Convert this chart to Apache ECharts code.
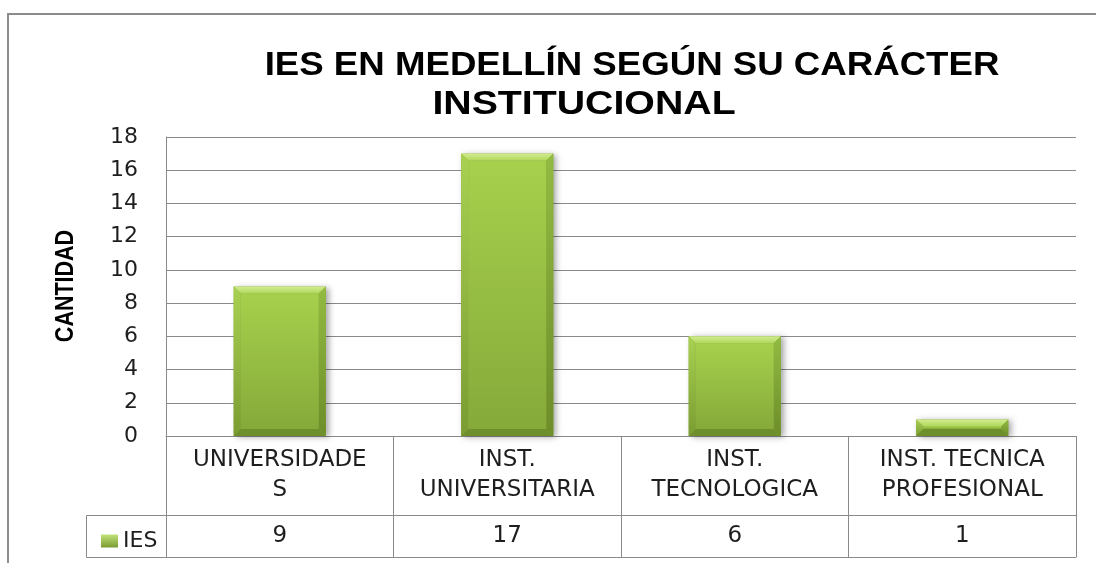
<!DOCTYPE html>
<html>
<head>
<meta charset="utf-8">
<script src="https://cdn.jsdelivr.net/npm/echarts@6/dist/echarts.min.js"></script>
<style>
html,body{margin:0;padding:0;background:#ffffff;}
#chart{width:1096px;height:563px;}
</style>
</head>
<body>
<div id="chart"></div>
<script>
// ---- data ----
const categories = ['UNIVERSIDADE\nS', 'INST.\nUNIVERSITARIA', 'INST.\nTECNOLOGICA', 'INST. TECNICA\nPROFESIONAL'];
const iesValues = [9, 17, 6, 1];
const seriesName = 'IES';
const yMin = 0, yMax = 18, yInterval = 2;
const titleLine1 = 'IES EN MEDELLÍN SEGÚN SU CARÁCTER';
const titleLine2 = 'INSTITUCIONAL';
const yAxisName = 'CANTIDAD';

// ---- styles ----
const LINE = '#8a8a8a';
const TXT = '#1e1e1e';
const TABLE_FONT = '"DejaVu Sans"';

function lg(c0, c1, horizontal) {
  return new echarts.graphic.LinearGradient(0, 0, horizontal ? 1 : 0, horizontal ? 0 : 1,
    [{offset: 0, color: c0}, {offset: 1, color: c1}]);
}

function renderItem(params, api) {
  const idx = api.value(0);
  const val = api.value(1);
  const top = api.coord([idx, val]);
  const base = api.coord([idx, 0]);
  const w = api.size([1, 0])[0] * 0.405;
  const x0 = top[0] - w / 2, x1 = top[0] + w / 2;
  const y0 = top[1], y1 = base[1];
  const h = y1 - y0;
  const b = Math.min(7, h / 2.4, w / 4);
  return {
    type: 'group',
    children: [
      {type: 'rect', shape: {x: x0, y: y0, width: w, height: h},
       style: {fill: '#86a93a', shadowBlur: 6, shadowOffsetX: 3, shadowOffsetY: 1, shadowColor: 'rgba(0,0,0,0.35)'}},
      {type: 'rect', shape: {x: x0 + b, y: y0 + b, width: w - 2 * b, height: Math.max(h - 2 * b, 0)},
       style: {fill: lg('#a6d04c', '#86aa3a')}},
      {type: 'polygon', shape: {points: [[x0, y0], [x1, y0], [x1 - b, y0 + b], [x0 + b, y0 + b]]},
       style: {fill: lg('#d2ec90', '#b0d75c')}},
      {type: 'polygon', shape: {points: [[x0, y0], [x0 + b, y0 + b], [x0 + b, y1 - b], [x0, y1]]},
       style: {fill: lg('#a8d152', '#7a9c32')}},
      {type: 'polygon', shape: {points: [[x1, y0], [x1, y1], [x1 - b, y1 - b], [x1 - b, y0 + b]]},
       style: {fill: lg('#92bb42', '#6d8d29')}},
      {type: 'polygon', shape: {points: [[x0, y1], [x0 + b, y1 - b], [x1 - b, y1 - b], [x1, y1]]},
       style: {fill: '#6f8f2c'}}
    ]
  };
}

const chart = echarts.init(document.getElementById('chart'), null, {renderer: 'canvas'});

const option = {
  backgroundColor: '#ffffff',
  animation: false,
  graphic: [
    {type: 'rect', z: 0, shape: {x: 8, y: 14, width: 1200, height: 800},
     style: {fill: 'none', stroke: '#8c8c8c', lineWidth: 2}},
    {type: 'text', x: 632, y: 66, scaleX: 1.11,
     style: {text: titleLine1, font: 'bold 33px "Liberation Sans", Arial, sans-serif', fill: '#000',
             textAlign: 'center', textVerticalAlign: 'middle'}},
    {type: 'text', x: 584, y: 105, scaleX: 1.19,
     style: {text: titleLine2, font: 'bold 33px "Liberation Sans", Arial, sans-serif', fill: '#000',
             textAlign: 'center', textVerticalAlign: 'middle'}},
    {type: 'text', x: 66, y: 286, rotation: Math.PI / 2, scaleX: 0.86,
     style: {text: yAxisName, font: 'bold 25px "Liberation Sans", Arial, sans-serif', fill: '#000',
             textAlign: 'center', textVerticalAlign: 'middle'}},
    {type: 'rect', shape: {x: 86.5, y: 515.5, width: 80, height: 42},
     style: {fill: 'none', stroke: LINE, lineWidth: 1}}
  ],
  legend: {
    data: [seriesName],
    left: 96,
    top: 525,
    icon: 'rect',
    itemWidth: 17,
    itemHeight: 13,
    textStyle: {fontFamily: TABLE_FONT, fontSize: 22, color: TXT, lineHeight: 22}
  },
  grid: {left: 166, right: 20, top: 137, bottom: 127, containLabel: false},
  xAxis: [
    {
      type: 'category',
      data: categories,
      position: 'bottom',
      axisLine: {show: true, lineStyle: {color: LINE, width: 1}},
      axisTick: {show: true, length: 121, alignWithLabel: false, interval: 0, lineStyle: {color: LINE, width: 1}},
      axisLabel: {interval: 0, margin: 9, fontFamily: TABLE_FONT, fontSize: 23, lineHeight: 30, color: TXT, align: 'center'},
      splitLine: {show: false}
    },
    {
      type: 'category',
      data: categories,
      position: 'bottom',
      offset: 79,
      axisLine: {show: true, lineStyle: {color: LINE, width: 1}},
      axisTick: {show: false},
      axisLabel: {interval: 0, margin: 21, verticalAlign: 'middle', fontFamily: TABLE_FONT, fontSize: 23, color: TXT,
                  formatter: function (v, i) { return String(iesValues[i]); }},
      splitLine: {show: false}
    },
    {
      type: 'category',
      data: categories,
      position: 'bottom',
      offset: 121,
      axisLine: {show: true, lineStyle: {color: LINE, width: 1}},
      axisTick: {show: false},
      axisLabel: {show: false},
      splitLine: {show: false}
    }
  ],
  yAxis: {
    type: 'value',
    min: yMin,
    max: yMax,
    interval: yInterval,
    axisLine: {show: true, lineStyle: {color: LINE, width: 1}},
    axisTick: {show: false},
    axisLabel: {margin: 28, fontFamily: TABLE_FONT, fontSize: 22, color: TXT},
    splitLine: {show: true, lineStyle: {color: LINE, width: 1}}
  },
  series: [{
    name: seriesName,
    type: 'custom',
    renderItem: renderItem,
    itemStyle: {color: lg('#c2e27a', '#7a9c32')},
    encode: {x: 0, y: 1},
    data: iesValues.map(function (v, i) { return [i, v]; }),
    z: 3
  }]
};

chart.setOption(option);
</script>
</body>
</html>
